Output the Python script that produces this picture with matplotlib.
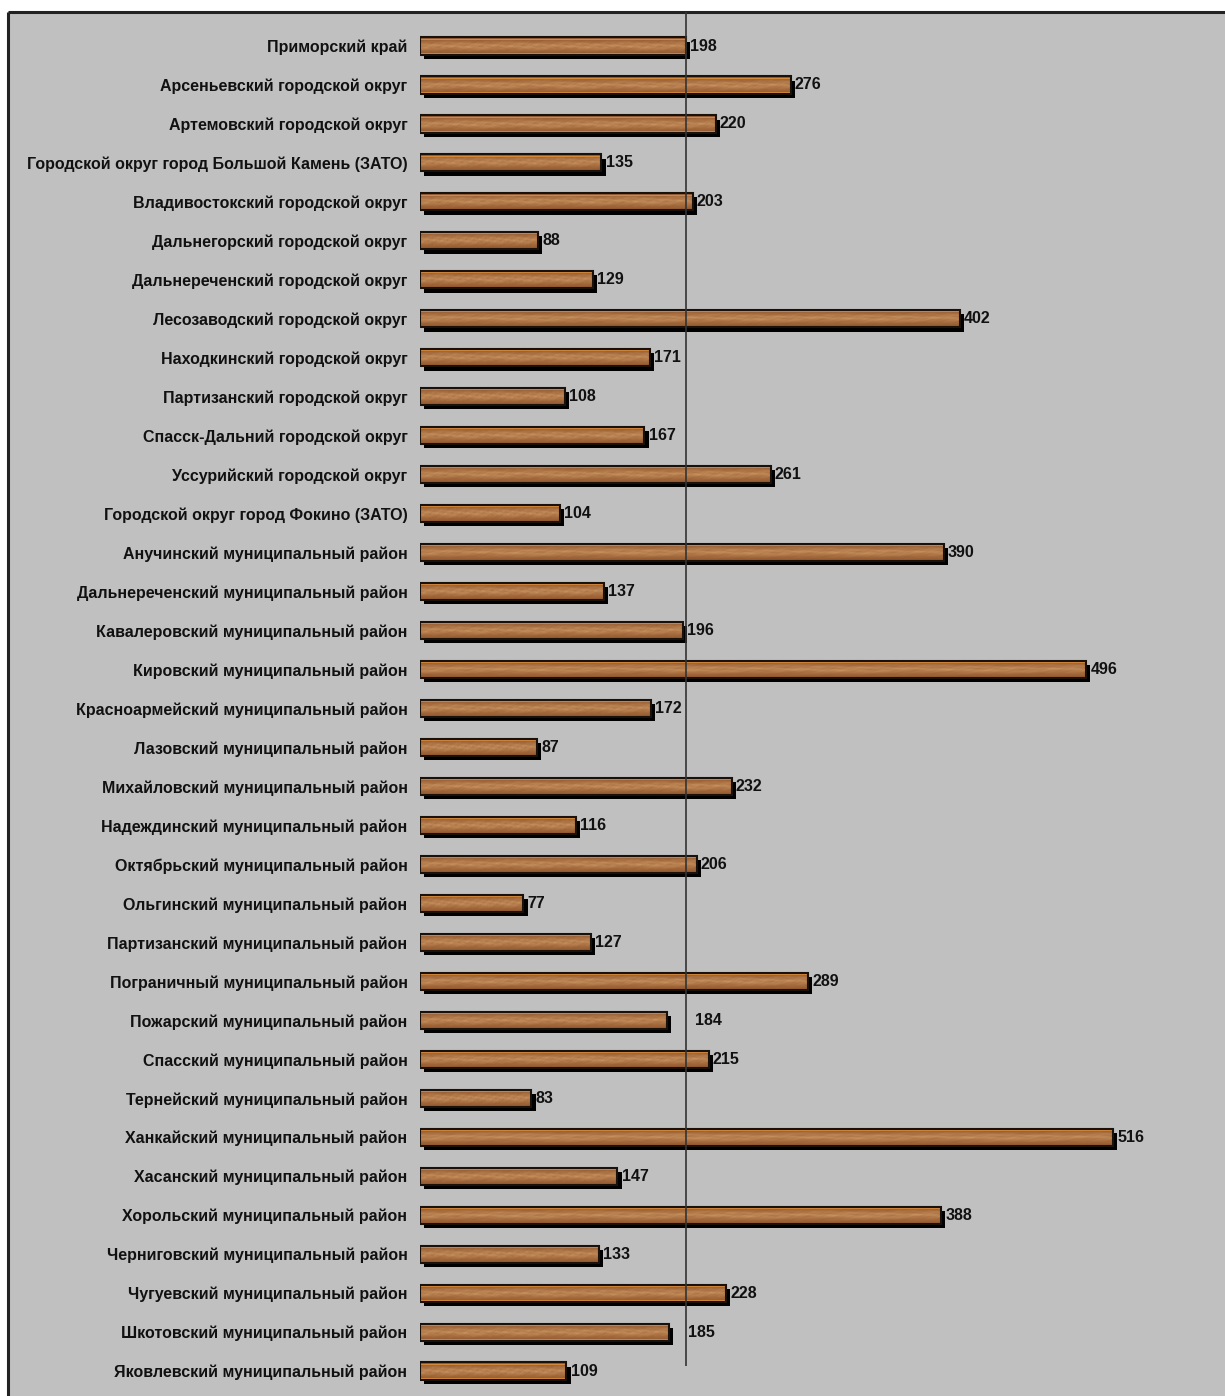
import numpy as np
import matplotlib
matplotlib.use("Agg")
import matplotlib.pyplot as plt
from matplotlib.patches import Rectangle
import matplotlib.patheffects as pe

plt.rcParams['font.family'] = ['Liberation Sans', 'DejaVu Sans']

names = [
    "Приморский край",
    "Арсеньевский городской округ",
    "Артемовский городской округ",
    "Городской округ город Большой Камень (ЗАТО)",
    "Владивостокский городской округ",
    "Дальнегорский городской округ",
    "Дальнереченский городской округ",
    "Лесозаводский городской округ",
    "Находкинский городской округ",
    "Партизанский городской округ",
    "Спасск-Дальний городской округ",
    "Уссурийский городской округ",
    "Городской округ город Фокино (ЗАТО)",
    "Анучинский муниципальный район",
    "Дальнереченский муниципальный район",
    "Кавалеровский муниципальный район",
    "Кировский муниципальный район",
    "Красноармейский муниципальный район",
    "Лазовский муниципальный район",
    "Михайловский муниципальный район",
    "Надеждинский муниципальный район",
    "Октябрьский муниципальный район",
    "Ольгинский муниципальный район",
    "Партизанский муниципальный район",
    "Пограничный муниципальный район",
    "Пожарский муниципальный район",
    "Спасский муниципальный район",
    "Тернейский муниципальный район",
    "Ханкайский муниципальный район",
    "Хасанский муниципальный район",
    "Хорольский муниципальный район",
    "Черниговский муниципальный район",
    "Чугуевский муниципальный район",
    "Шкотовский муниципальный район",
    "Яковлевский муниципальный район",
]
values = [198, 276, 220, 135, 203, 88, 129, 402, 171, 108, 167, 261, 104, 390,
          137, 196, 496, 172, 87, 232, 116, 206, 77, 127, 289, 184, 215, 83,
          516, 147, 388, 133, 228, 185, 109]
region_value = values[0]  # vertical reference line = Приморский край

# labels pushed right so they do not collide with the reference line
label_nudge = {"Пожарский муниципальный район": 17, "Шкотовский муниципальный район": 11}

W, H = 1225, 1396
fig = plt.figure(figsize=(W / 100, H / 100), dpi=100)
fig.patch.set_facecolor('white')

# grey chart area with dark frame (runs off the right/bottom edge)
top = 1 - 12 / H
left = 8 / W
bg = fig.add_axes([0, 0, 1, 1], zorder=0)
bg.set_xlim(0, 1)
bg.set_ylim(0, 1)
bg.axis('off')
bg.add_patch(Rectangle((left, -0.05), 1.2, top + 0.05, facecolor='#c0c0c0', edgecolor='none'))
bg.plot([left, 1], [top, top], color='#222222', lw=2.2, solid_capstyle='butt')
bg.plot([left, left], [0, top], color='#222222', lw=2.2, solid_capstyle='butt')

ax = fig.add_axes([420 / W, 0, 806 / W, top], zorder=1)
ax.set_facecolor('none')
for s in ax.spines.values():
    s.set_visible(False)

n = len(values)
y = np.arange(n)

# wood texture (deterministic, just decoration)
tw, th = 500, 24
xx = np.linspace(0, 1, tw)[None, :]
yy = np.linspace(0, 1, th)[:, None]
grain = (0.5 * np.sin(xx * 29 + 5 * np.sin(yy * 7)) + 0.35 * np.sin(xx * 83 + yy * 19 + 1.3)
         + 0.3 * np.sin(xx * 197 + 4 * np.sin(yy * 13 + xx * 5)) + 0.2 * np.sin(xx * 431 + yy * 31))
prof = np.exp(-((yy - 0.5) / 0.28) ** 2)
t = np.clip(0.15 + 0.55 * prof + 0.18 * grain * prof, 0, 1)
dark = np.array([138, 78, 38]) / 255.0
lite = np.array([208, 155, 102]) / 255.0
tex = dark[None, None, :] + t[..., None] * (lite - dark)[None, None, :]

bh = 0.44
bars = ax.barh(y, values, height=bh, color='#a86a36', edgecolor='none', zorder=2)
for b in bars:
    b.set_path_effects([pe.SimplePatchShadow(offset=(3, -3), shadow_rgbFace='black', alpha=1.0),
                        pe.Normal()])
    x0, y0 = b.get_x(), b.get_y()
    w, h = b.get_width(), b.get_height()
    im = ax.imshow(tex, extent=(x0, x0 + w, y0 + h, y0), aspect='auto', zorder=3,
                   interpolation='bilinear')
    im.set_clip_path(b)
ax.barh(y, values, height=bh * 0.86, fill=False, edgecolor='#d58a3c', linewidth=0.7, zorder=4)
ax.barh(y, values, height=bh, fill=False, edgecolor='#1a120a', linewidth=1.5, zorder=4)

ax.vlines(region_value, -0.8725, 33.87, color='#333333', lw=1.2, zorder=5)

for yi, v, nm in zip(y, values, names):
    ax.annotate(str(v), (v, yi), xytext=(3 + label_nudge.get(nm, 0), 0), textcoords='offset points',
                va='center', ha='left', fontsize=11.5, fontweight='bold', color='#111111', zorder=6)

ax.set_xlim(0, 600)
ax.set_ylim(34.64, -0.8725)
ax.set_yticks(y)
ax.set_yticklabels(names, fontsize=11.5, fontweight='bold', color='#111111')
ax.tick_params(axis='y', length=0, pad=9)
ax.set_xticks([])

fig.savefig('out.png', dpi=100)
